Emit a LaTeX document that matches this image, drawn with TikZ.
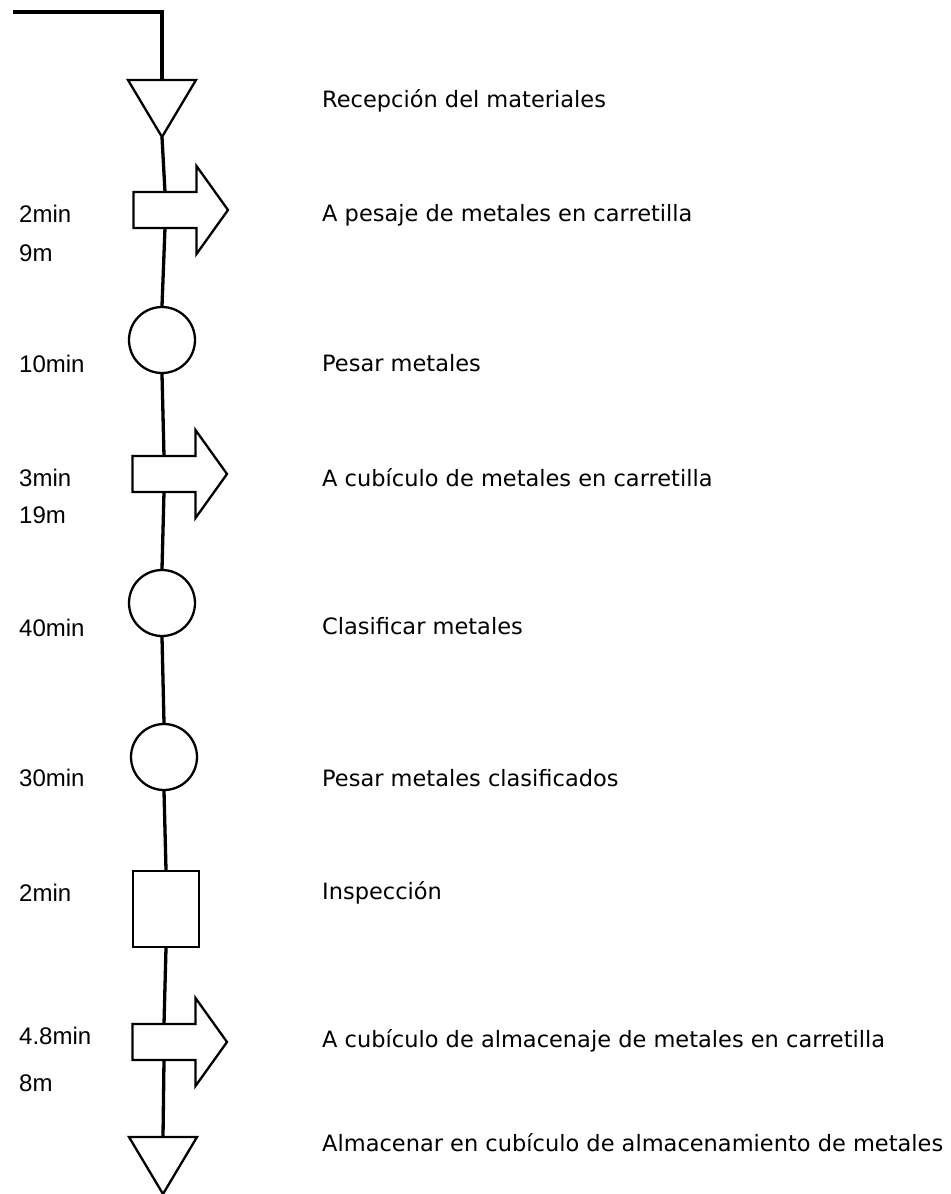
\documentclass[tikz,border=0pt]{standalone}
\usepackage{fontspec}
\setmainfont{DejaVu Sans}
\newfontfamily\timefont{Liberation Sans}
\usetikzlibrary{positioning}

\begin{document}
\begin{tikzpicture}[x=1bp,y=-1bp,
      flow/.style={line width=3.3bp},
      op/.style={draw,line width=2.3bp,circle,minimum size=66bp,inner sep=0pt},
      insp/.style={draw,line width=2.3bp,rectangle,minimum width=66bp,minimum height=76bp,inner sep=0pt},
      tlabel/.style={font={\timefont\fontsize{24bp}{28bp}\selectfont},anchor=base west,inner sep=0pt},
      dlabel/.style={font={\fontsize{22.5bp}{27bp}\selectfont},anchor=base west,inner sep=0pt},
      store/.pic={
        \draw[line width=2.3bp] (-34,0) -- (34,0) -- (0,57) -- cycle;
        \coordinate (-n) at (0,0);
        \coordinate (-s) at (0,57);
      },
      move/.pic={
        \draw[line width=2.3bp] (-31.5,-18) -- (31.5,-18) -- (31.5,-44) -- (63,0)
          -- (31.5,44) -- (31.5,18) -- (-31.5,18) -- cycle;
        \coordinate (-n) at (0,-18);
        \coordinate (-s) at (0,18);
      }]
    \useasboundingbox (0,0) rectangle (951,1194);
    % process symbols, top to bottom
    \pic (r1) at (162,80) {store};
    \pic (m1) at (165,210) {move};
    \node[op] (o1) at (162,340) {};
    \pic (m2) at (164,474) {move};
    \node[op] (o2) at (162,603) {};
    \node[op] (o3) at (164,757) {};
    \node[insp] (i1) at (166,909) {};
    \pic (m3) at (164,1042) {move};
    \pic (r2) at (163,1137) {store};
    % flow line
    \coordinate (start) at (13,12);
    \draw[flow] (start) -| (r1-n);
    \draw[flow] (r1-s) -- (m1-n);
    \draw[flow] (m1-s) -- (o1.north);
    \draw[flow] (o1.south) -- (m2-n);
    \draw[flow] (m2-s) -- (o2.north);
    \draw[flow] (o2.south) -- (o3.north);
    \draw[flow] (o3.south) -- (i1.north);
    \draw[flow] (i1.south) -- (m3-n);
    \draw[flow] (m3-s) -- (r2-n);
    % times and distances
    \foreach \y/\txt [count=\i] in {222/2min, 261/9m, 372/10min, 486/3min, 523/19m,
        636/40min, 786/30min, 901/2min, 1044/4.8min, 1091/8m}
      \node[tlabel] (t\i) at (19,\y) {\txt};
    % activity descriptions
    \foreach \y/\txt [count=\i] in {107/Recepción del materiales,
        221/A pesaje de metales en carretilla,
        371/Pesar metales,
        486/A cubículo de metales en carretilla,
        634/Clasificar metales,
        786/Pesar metales clasificados,
        899/Inspección,
        1047/A cubículo de almacenaje de metales en carretilla,
        1151/Almacenar en cubículo de almacenamiento de metales}
      \node[dlabel] (d\i) at (322,\y) {\txt};
  \end{tikzpicture}
\end{document}
